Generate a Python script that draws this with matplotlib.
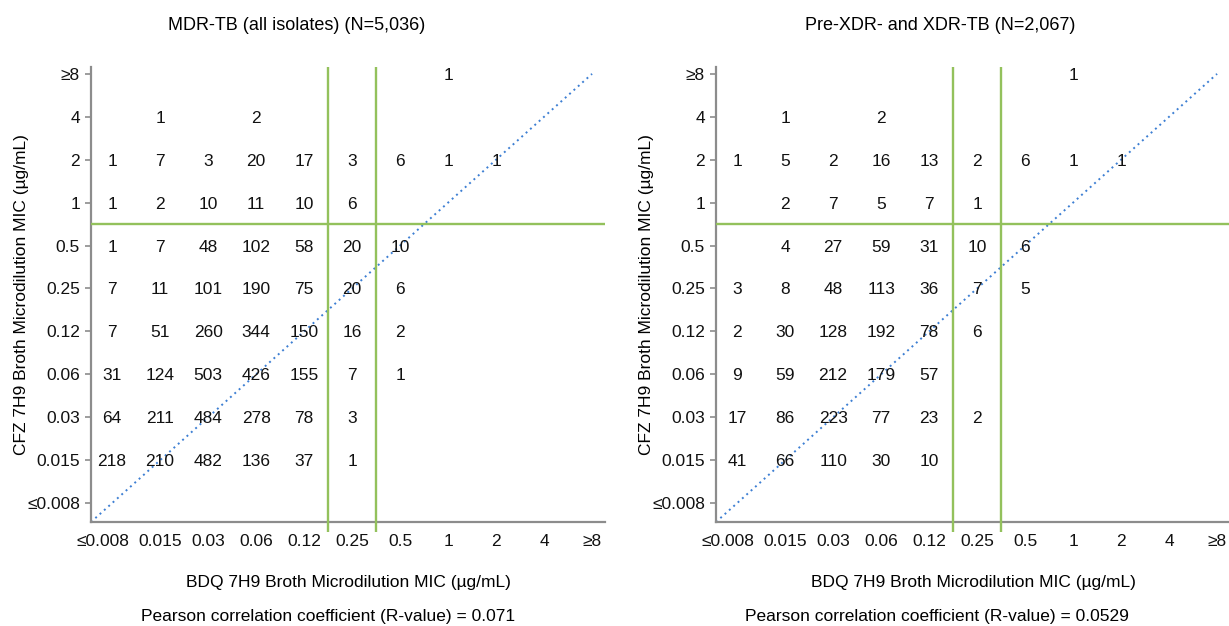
import matplotlib
matplotlib.use("Agg")
import matplotlib.pyplot as plt
import matplotlib.transforms as mtransforms

plt.rcParams['font.family'] = ['Liberation Sans', 'DejaVu Sans']

MIC_LABELS = ["≤0.008", "0.015", "0.03", "0.06", "0.12", "0.25", "0.5", "1", "2", "4", "≥8"]

# isolate counts: one list per CFZ MIC row (lowest first), entries follow BDQ MIC columns
mdr_counts = [
    [],
    [218, 210, 482, 136, 37, 1],
    [64, 211, 484, 278, 78, 3],
    [31, 124, 503, 426, 155, 7, 1],
    [7, 51, 260, 344, 150, 16, 2],
    [7, 11, 101, 190, 75, 20, 6],
    [1, 7, 48, 102, 58, 20, 10],
    [1, 2, 10, 11, 10, 6],
    [1, 7, 3, 20, 17, 3, 6, 1, 1],
    [None, 1, None, 2],
    [None, None, None, None, None, None, None, 1],
]

xdr_counts = [
    [],
    [41, 66, 110, 30, 10],
    [17, 86, 223, 77, 23, 2],
    [9, 59, 212, 179, 57],
    [2, 30, 128, 192, 78, 6],
    [3, 8, 48, 113, 36, 7, 5],
    [None, 4, 27, 59, 31, 10, 6],
    [None, 2, 7, 5, 7, 1],
    [1, 5, 2, 16, 13, 2, 6, 1, 1],
    [None, 1, None, 2],
    [None, None, None, None, None, None, None, 1],
]

titles = ["MDR-TB (all isolates) (N=5,036)", "Pre-XDR- and XDR-TB (N=2,067)"]
r_values = ["0.071", "0.0529"]

# breakpoints drawn as green lines (between the listed MIC and the next one)
bdq_breaks = ["0.12", "0.25"]
cfz_break = "0.5"

GREEN = '#93c15c'
GRAY = '#8c8c8c'
W, H = 1229, 626
FS = 12.5

fig = plt.figure(figsize=(W / 100, H / 100), dpi=100)
fig.patch.set_facecolor('white')

XMIN, XMAX = -0.44, 10.27
YMIN, YMAX = -0.44, 10.16


def draw_panel(left_px, counts, title, title_x, r_value, r_x):
    ax = fig.add_axes([left_px / W, 1 - 522 / H, 514 / W, 455 / H])
    ax.set_xlim(XMIN, XMAX)
    ax.set_ylim(YMIN, YMAX)

    for s in ['top', 'right']:
        ax.spines[s].set_visible(False)
    for s in ['left', 'bottom']:
        ax.spines[s].set_color(GRAY)
        ax.spines[s].set_linewidth(1.6)

    ticks = list(range(len(MIC_LABELS)))
    ax.set_xticks(ticks)
    ax.set_xticklabels(MIC_LABELS)
    ax.set_yticks(ticks)
    ax.set_yticklabels(MIC_LABELS)
    ax.tick_params(axis='x', length=0, pad=9, labelsize=FS, colors='#111111')
    ax.tick_params(axis='y', length=4, width=1.2, pad=4, labelsize=FS,
                   color=GRAY, labelcolor='#111111')

    # the lowest BDQ label sits a bit left of its column
    lbl = ax.get_xticklabels()[0]
    lbl.set_transform(lbl.get_transform() +
                      mtransforms.ScaledTranslation(-0.09, 0, fig.dpi_scale_trans))

    # line of identity
    ax.plot([XMIN, 10], [YMIN, 10], color='#3d7fd3', lw=1.4,
            ls=(0, (1, 2)), zorder=2)

    # breakpoint lines
    for b in bdq_breaks:
        ax.vlines(MIC_LABELS.index(b) + 0.5, -0.68, YMAX, color=GREEN,
                  lw=1.7, clip_on=False, zorder=3)
    ax.axhline(MIC_LABELS.index(cfz_break) + 0.5, color=GREEN, lw=1.7, zorder=3)

    for row, values in enumerate(counts):
        for col, v in enumerate(values):
            if v is None:
                continue
            ax.text(col, row, str(v), ha='center', va='center_baseline',
                    fontsize=FS, color='#111111', zorder=4)

    cx = (left_px + 257) / W
    fig.text(title_x / W, 1 - 25 / H, title, ha='center', va='center', fontsize=13)
    fig.text(cx, 1 - 582 / H, "BDQ 7H9 Broth Microdilution MIC (µg/mL)",
             ha='center', va='center', fontsize=FS)
    fig.text(r_x / W, 1 - 616 / H,
             "Pearson correlation coefficient (R-value) = " + r_value,
             ha='center', va='center', fontsize=FS)
    fig.text((left_px - 69) / W, 1 - 294.5 / H,
             "CFZ 7H9 Broth Microdilution MIC (µg/mL)",
             ha='center', va='center', rotation=90, fontsize=FS)
    return ax


draw_panel(91, mdr_counts, titles[0], 297, r_values[0], 328)
draw_panel(716, xdr_counts, titles[1], 940, r_values[1], 937)

fig.savefig("out.png", dpi=100, facecolor='white')
